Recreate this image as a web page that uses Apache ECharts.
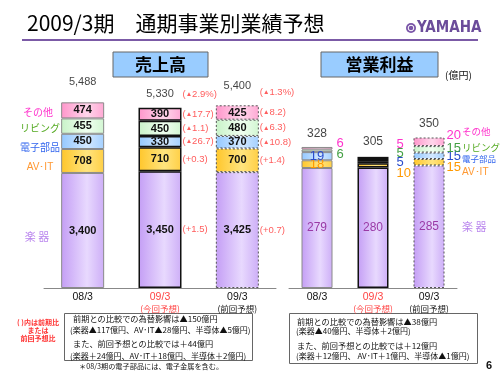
<!DOCTYPE html>
<html>
<head>
<meta charset="utf-8">
<script src="https://cdn.jsdelivr.net/npm/echarts@6/dist/echarts.min.js"></script>
<style>
  html, body { margin: 0; padding: 0; background: #fff; }
  #chart { width: 500px; height: 375px; }
</style>
</head>
<body>
<div id="chart"></div>
<script>
// 区分・期
const years = ['08/3', '09/3\n(今回予想)', '09/3\n(前回予想)'];
const segNames = ['楽器', 'AV･IT', '電子部品', 'リビング', 'その他'];

// 売上高（億円）
const salesMusic = [3400, 3450, 3425];
const salesAvit = [708, 710, 700];
const salesElec = [450, 330, 370];
const salesLiving = [455, 450, 480];
const salesOther = [474, 390, 425];
const salesTotal = [5488, 5330, 5400];
const salesTotalChg = [null, '(▲2.9%)', '(▲1.3%)'];
const salesChgMusic = [null, '(+1.5)', '(+0.7)'];
const salesChgAvit = [null, '(+0.3)', '(+1.4)'];
const salesChgElec = [null, '(▲26.7)', '(▲10.8)'];
const salesChgLiving = [null, '(▲1.1)', '(▲6.3)'];
const salesChgOther = [null, '(▲17.7)', '(▲8.2)'];

// 営業利益（億円）
const profitMusic = [279, 280, 285];
const profitAvit = [18, 10, 15];
const profitElec = [19, 5, 15];
const profitLiving = [6, 5, 15];
const profitOther = [6, 5, 20];
const profitTotal = [328, 305, 350];

const chart = echarts.init(document.getElementById('chart'));
const G = echarts.graphic;
const cjk = '"Noto Sans CJK JP", sans-serif';
const latin = '"Liberation Sans", Arial, sans-serif';

function grad(a, b, c) {
  return new G.LinearGradient(0, 0, 1, 0, [
    { offset: 0, color: a }, { offset: 0.6, color: b }, { offset: 1, color: c }
  ]);
}
const segFill = [
  grad('#c49ef5', '#e8d9fe', '#cdaef7'),
  grad('#ffc62a', '#ffe47e', '#ffcf45'),
  grad('#94c8ff', '#d2e8ff', '#a4d0ff'),
  grad('#c8f2c8', '#f0fff0', '#d2f6d2'),
  grad('#ff96cb', '#ffd6eb', '#ffa8d4')
];
const segText = ['#bb88ee', '#ff9933', '#3366ee', '#55aa22', '#ff33cc'];
const profitText = ['#9a3aa6', '#ff9900', '#2a4ccc', '#44a044', '#ff33cc'];

// 列ごとの枠線（実績・今回予想・前回予想）
const colBorder = [
  { borderColor: '#8a8a8a', borderWidth: 1, borderType: 'solid' },
  { borderColor: '#111', borderWidth: 1.5, borderType: 'solid' },
  { borderColor: '#555', borderWidth: 1, borderType: [2, 2] }
];

const salesSegs = [salesMusic, salesAvit, salesElec, salesLiving, salesOther];
const salesChgs = [salesChgMusic, salesChgAvit, salesChgElec, salesChgLiving, salesChgOther];
const profitSegs = [profitMusic, profitAvit, profitElec, profitLiving, profitOther];

const fmt = v => v.toLocaleString('en-US');
// ▲ を小さく描く
const chgText = s => s.replace('▲', '{t|▲}');
const chgRich = { t: { fontSize: 6.5, fontFamily: latin, color: '#ff3333' } };

// 営業利益のラベル位置（系列 × 列）
const profitLabelPos = [
  [['inside', [0, 0]], ['inside', [0, 0]], ['inside', [0, 0]]],
  [['inside', [0, 0]], ['right', [0, 8]], ['right', [0, 5]]],
  [['inside', [0, 0]], ['right', [0, 0]], ['right', [0, 1]]],
  [['right', [0, 4]], ['right', [0, -7]], ['right', [0, -1]]],
  [['right', [0, -5]], ['right', [0, -14]], ['right', [0, -6]]]
];
const profitLabelDist = [4, 8, 2];

const series = [];

salesSegs.forEach((vals, s) => {
  series.push({
    name: segNames[s], type: 'bar', stack: 'sales', xAxisIndex: 0, yAxisIndex: 0,
    barWidth: 43,
    data: vals.map((v, i) => ({ value: v, itemStyle: Object.assign({ color: segFill[s] }, colBorder[i]) })),
    label: {
      show: true, position: 'inside', formatter: p => fmt(p.value),
      fontFamily: latin, fontSize: 11, fontWeight: 'bold', color: '#111'
    }
  });
});

profitSegs.forEach((vals, s) => {
  series.push({
    name: segNames[s], type: 'bar', stack: 'profit', xAxisIndex: 1, yAxisIndex: 1,
    barWidth: 31,
    data: vals.map((v, i) => ({
      value: v,
      itemStyle: Object.assign({ color: segFill[s] }, colBorder[i]),
      label: {
        position: profitLabelPos[s][i][0], offset: profitLabelPos[s][i][1],
        distance: profitLabelDist[i]
      }
    })),
    label: {
      show: true, formatter: p => p.value,
      fontFamily: latin, fontSize: s === 0 ? 12 : 13, color: profitText[s]
    }
  });
});

// 売上高：前期比・前回予想比（セグメント中央の右側）
const chgPoints = [];
salesSegs.forEach((vals, s) => {
  vals.forEach((v, i) => {
    if (!salesChgs[s][i]) return;
    let base = 0;
    for (let k = 0; k < s; k++) base += salesSegs[k][i];
    chgPoints.push([i, base + v / 2, salesChgs[s][i]]);
  });
});

const dot = { symbolSize: 1, itemStyle: { color: 'rgba(0,0,0,0)' }, silent: true, z: 5 };

series.push(Object.assign({
  type: 'scatter', xAxisIndex: 0, yAxisIndex: 0, data: chgPoints,
  label: {
    show: true, position: 'right', distance: 22, formatter: p => chgText(p.data[2]),
    fontFamily: latin, fontSize: 9.5, color: '#ff3333', rich: chgRich
  }
}, dot));

series.push(Object.assign({
  type: 'scatter', xAxisIndex: 0, yAxisIndex: 0,
  data: salesTotal.map((v, i) => ({ value: [i, v], label: { offset: [0, [-6, 0, -5][i]] } })),
  label: {
    show: true, position: 'top', distance: 8, formatter: p => fmt(p.value[1]),
    fontFamily: latin, fontSize: 11, color: '#111'
  }
}, dot));

series.push(Object.assign({
  type: 'scatter', xAxisIndex: 0, yAxisIndex: 0,
  data: salesTotal.map((v, i) => [i, v, salesTotalChg[i]]).filter(d => d[2]),
  label: {
    show: true, position: 'right', distance: 22, formatter: p => chgText(p.data[2]),
    offset: [0, -13], fontFamily: latin, fontSize: 9.5, color: '#ff3333', rich: chgRich
  }
}, dot));

series.push(Object.assign({
  type: 'scatter', xAxisIndex: 1, yAxisIndex: 1,
  data: profitTotal.map((v, i) => ({ value: [i, v], label: { offset: [0, [0, -2, 0][i]] } })),
  label: {
    show: true, position: 'top', distance: 7, formatter: p => p.value[1],
    fontFamily: latin, fontSize: 12, color: '#111'
  }
}, dot));

const catAxis = (grid) => ({
  type: 'category', gridIndex: grid,
  data: years.map((y, i) => i === 1 ? { value: y, textStyle: { color: '#ff4444' } } : y),
  axisLine: { lineStyle: { color: '#888', width: 1 } },
  axisTick: { inside: true, length: 4, lineStyle: { color: '#888' } },
  axisLabel: {
    interval: 0, margin: 3, color: '#111', lineHeight: 12,
    formatter: v => {
      const p = v.split('\n');
      return p.length > 1 ? '{a|' + p[0] + '}\n{b|' + p[1] + '}' : '{a|' + p[0] + '}';
    },
    rich: {
      a: { fontFamily: latin, fontSize: 10.5, lineHeight: 12 },
      b: { fontFamily: cjk, fontSize: 8.5, lineHeight: 12 }
    }
  }
});
const valAxis = (grid, max) => ({
  type: 'value', gridIndex: grid, min: 0, max: max, show: false, splitLine: { show: false }
});

function txt(x, y, text, size, color, extra) {
  return {
    type: 'text', x: x, y: y,
    style: Object.assign({ text: text, fontSize: size, fill: color, fontFamily: cjk, textVerticalAlign: 'middle' }, extra || {})
  };
}

const graphic = [
  txt(27, 23, '2009/3期　通期事業別業績予想', 21, '#000', { fontFamily: '"Noto Sans CJK JP", "Liberation Sans", sans-serif' }),
  { type: 'line', shape: { x1: 22, y1: 40, x2: 478, y2: 40 }, style: { stroke: '#7b5aa6', lineWidth: 2 } },
  { type: 'circle', shape: { cx: 411, cy: 28, r: 5 }, style: { fill: '#7a55a8' } },
  { type: 'circle', shape: { cx: 411, cy: 28, r: 2.8 }, style: { fill: 'none', stroke: '#fff', lineWidth: 1 } },
  txt(417, 28, 'YAMAHA', 15, '#6b4c9a', { fontFamily: '"DejaVu Sans Condensed", "Liberation Sans Narrow", sans-serif', fontWeight: 'bold' }),

  { type: 'rect', shape: { x: 113, y: 52, width: 95, height: 25 }, style: { fill: '#99ccff', stroke: '#666', lineWidth: 1 } },
  txt(160.5, 65, '売上高', 17, '#000', { textAlign: 'center', fontWeight: 'bold' }),
  { type: 'rect', shape: { x: 321, y: 52, width: 117, height: 25 }, style: { fill: '#99ccff', stroke: '#666', lineWidth: 1 } },
  txt(379.5, 65, '営業利益', 17, '#000', { textAlign: 'center', fontWeight: 'bold' }),
  txt(445, 75, '(億円)', 10, '#111'),

  // 売上高 左側の凡例
  txt(38, 112, segNames[4], 10, segText[4], { textAlign: 'center' }),
  txt(40, 128, segNames[3], 10, segText[3], { textAlign: 'center' }),
  txt(40, 147, segNames[2], 10, segText[2], { textAlign: 'center' }),
  txt(40, 167, segNames[1], 10, segText[1], { textAlign: 'center', fontFamily: latin }),
  txt(37, 237, '楽 器', 11, segText[0], { textAlign: 'center' }),

  // 営業利益 右側の凡例
  txt(462, 131, segNames[4], 9.5, segText[4]),
  txt(462, 147, segNames[3], 9.5, segText[3]),
  txt(462, 159, segNames[2], 8.5, segText[2]),
  txt(462, 172, segNames[1], 10, segText[1], { fontFamily: latin }),
  txt(462, 227, '楽 器', 11, segText[0]),

  // 注記
  txt(38, 322, '( )内は前期比', 7, '#ff3333', { textAlign: 'center', fontWeight: 'bold' }),
  txt(38, 330, 'または', 7, '#ff3333', { textAlign: 'center', fontWeight: 'bold' }),
  txt(38, 338, '前回予想比', 7, '#ff3333', { textAlign: 'center', fontWeight: 'bold' }),

  { type: 'rect', shape: { x: 64.5, y: 313.5, width: 188, height: 47 }, style: { fill: '#fff', stroke: '#666', lineWidth: 1 } },
  txt(73, 319, '前期との比較での為替影響は▲150億円', 8.2, '#111'),
  txt(70, 330, '(楽器▲117億円、AV･IT▲28億円、半導体▲5億円)', 8, '#111'),
  txt(73, 344, 'また、前回予想との比較では＋44億円', 8.2, '#111'),
  txt(70, 356, '(楽器＋24億円、AV･IT＋18億円、半導体＋2億円)', 8, '#111'),

  { type: 'rect', shape: { x: 289.5, y: 313.5, width: 188, height: 50 }, style: { fill: '#fff', stroke: '#666', lineWidth: 1 } },
  txt(297, 322, '前期との比較での為替影響は▲38億円', 8.2, '#111'),
  txt(296, 331, '(楽器▲40億円、半導体＋2億円)', 8, '#111'),
  txt(297, 346, 'また、前回予想との比較では＋12億円', 8.2, '#111'),
  txt(296, 356, '(楽器＋12億円、 AV･IT＋1億円、半導体▲1億円)', 8, '#111'),

  txt(79, 366, '＊08/3期の電子部品には、電子金属を含む。', 7.2, '#111'),
  txt(486, 366, '6', 11, '#111', { fontFamily: latin, fontWeight: 'bold' })
];

chart.setOption({
  animation: false,
  grid: [
    { left: 44, width: 232, top: 85, bottom: 87 },
    { left: 289, width: 168, top: 116, bottom: 87 }
  ],
  xAxis: [catAxis(0), catAxis(1)],
  yAxis: [valAxis(0, 6000), valAxis(1, 400)],
  series: series,
  graphic: graphic
});
</script>
</body>
</html>
